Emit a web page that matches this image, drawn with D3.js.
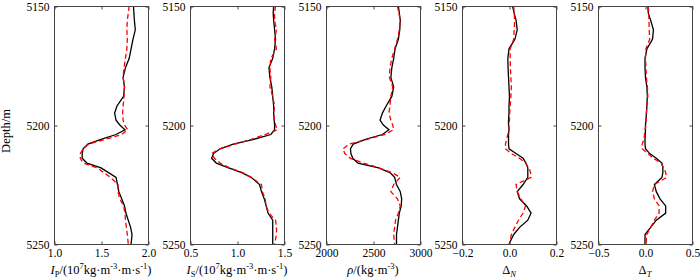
<!DOCTYPE html>
<html>
<head>
<meta charset="utf-8">
<script src="https://cdn.jsdelivr.net/npm/d3@7"></script>
<style>
  body { margin: 0; background: #fff; }
  text { font-family: "Liberation Serif", "Times New Roman", serif; fill: #000; }
</style>
</head>
<body>
<svg id="chart" width="700" height="280"></svg>
<script>
// depth samples (m), shared by all curves
const depth = [5150, 5153, 5156, 5160, 5164, 5168, 5172, 5176, 5180, 5184, 5188, 5192, 5195, 5198,
  5200, 5202, 5204, 5206, 5208, 5210, 5212, 5214, 5216, 5218, 5220, 5222, 5225, 5228, 5231,
  5234, 5237, 5240, 5243, 5246, 5250];
const depthTicks = [5150, 5200, 5250];

// P impedance (true = black, inverted = red dashed)
const ipTrue = [1.845, 1.85, 1.855, 1.865, 1.84, 1.82, 1.80, 1.76, 1.735, 1.75, 1.74, 1.67, 1.645, 1.66,
  1.70, 1.755, 1.66, 1.50, 1.36, 1.31, 1.30, 1.30, 1.35, 1.50, 1.58, 1.66, 1.675, 1.69, 1.72,
  1.75, 1.765, 1.79, 1.815, 1.83, 1.82];
const ipInv = [1.80, 1.79, 1.78, 1.775, 1.78, 1.775, 1.76, 1.745, 1.735, 1.75, 1.745, 1.735, 1.73, 1.735,
  1.75, 1.785, 1.72, 1.55, 1.37, 1.31, 1.28, 1.28, 1.31, 1.46, 1.53, 1.60, 1.68, 1.68, 1.70,
  1.74, 1.755, 1.76, 1.77, 1.78, 1.79];
const ipTicks = [1.0, 1.5, 2.0];

// S impedance
const isTrue = [1.39, 1.385, 1.39, 1.40, 1.41, 1.40, 1.38, 1.34, 1.35, 1.37, 1.38, 1.39, 1.39, 1.395,
  1.40, 1.40, 1.36, 1.18, 0.96, 0.82, 0.75, 0.73, 0.78, 0.91, 1.05, 1.15, 1.24, 1.26, 1.29,
  1.31, 1.33, 1.38, 1.38, 1.38, 1.38];
const isInv = [1.41, 1.40, 1.40, 1.42, 1.40, 1.42, 1.36, 1.35, 1.36, 1.35, 1.38, 1.40, 1.39, 1.40,
  1.41, 1.43, 1.30, 1.15, 0.98, 0.82, 0.73, 0.76, 0.82, 0.92, 1.06, 1.15, 1.26, 1.27, 1.30,
  1.31, 1.34, 1.41, 1.42, 1.42, 1.40];
const isTicks = [0.5, 1.0, 1.5];

// density
const rhoTrue = [2770, 2780, 2790, 2785, 2770, 2735, 2720, 2700, 2690, 2720, 2700, 2640, 2600, 2575,
  2610, 2670, 2600, 2420, 2290, 2260, 2265, 2285, 2340, 2560, 2680, 2730, 2750, 2790, 2805,
  2800, 2780, 2770, 2760, 2750, 2750];
const rhoInv = [2760, 2775, 2790, 2780, 2760, 2730, 2700, 2680, 2675, 2710, 2690, 2680, 2670, 2690,
  2710, 2720, 2620, 2440, 2250, 2180, 2200, 2260, 2400, 2560, 2700, 2790, 2720, 2690, 2760,
  2790, 2770, 2740, 2730, 2720, 2730];
const rhoTicks = [2000, 2500, 3000];

// normal weakness
const dnTrue = [0.015, 0.022, 0.03, 0.035, 0.025, 0.0, -0.005, -0.004, -0.002, 0.0, 0.002, 0.0, 0.0, -0.002,
  -0.002, 0.0, -0.002, -0.002, -0.002, 0.0, 0.03, 0.06, 0.072, 0.08, 0.08, 0.08, 0.06, 0.035, 0.045,
  0.075, 0.094, 0.08, 0.045, 0.02, 0.0];
const dnInv = [0.02, 0.022, 0.024, 0.022, 0.02, 0.005, 0.005, 0.006, 0.008, 0.01, 0.008, 0.005, 0.003, 0.002,
  0.0, 0.0, -0.005, -0.01, -0.015, -0.015, 0.01, 0.045, 0.07, 0.085, 0.092, 0.094, 0.03, 0.035, 0.05,
  0.07, 0.06, 0.04, 0.025, 0.01, 0.002];
const dnTicks = [-0.2, 0.0, 0.2];

// tangential weakness
const dtTrue = [0.03, 0.035, 0.06, 0.09, 0.08, 0.02, 0.0, 0.0, 0.005, 0.02, 0.025, 0.02, 0.015, 0.01,
  0.005, 0.005, 0.003, 0.0, 0.0, 0.005, 0.05, 0.12, 0.18, 0.19, 0.19, 0.18, 0.10, 0.12, 0.16,
  0.22, 0.22, 0.12, 0.06, 0.0, 0.0];
const dtInv = [0.035, 0.04, 0.042, 0.045, 0.05, 0.01, 0.005, 0.01, 0.015, 0.025, 0.03, 0.02, 0.015, 0.012,
  0.008, 0.0, -0.005, -0.01, -0.03, -0.03, 0.03, 0.09, 0.17, 0.20, 0.22, 0.23, 0.10, 0.08, 0.10,
  0.15, 0.15, 0.10, 0.06, 0.02, 0.01];
const dtTicks = [-0.5, 0.0, 0.5];

/***** layout *****/
const svg = d3.select("#chart");
const plotTop = 6, plotBottom = 244;
const panelW = 94, firstLeft = 54, step = 136;
const TICK = 3;
const frameColor = "#444";

const yScale = d3.scaleLinear().domain([5150, 5250]).range([plotTop, plotBottom]);

const f1 = d3.format(".1f"), f0 = d3.format("d");

// axis titles as pieces: [text, style]
const panels = [
  {tv: ipTrue, iv: ipInv, ticks: ipTicks, fmt: f1,
   title: [["I", "i"], ["P", "sub"], ["/(10", ""], ["7", "sup"], ["kg·m", ""], ["-3", "sup"], ["·m·s", ""], ["-1", "sup"], [")", ""]]},
  {tv: isTrue, iv: isInv, ticks: isTicks, fmt: f1,
   title: [["I", "i"], ["S", "sub"], ["/(10", ""], ["7", "sup"], ["kg·m", ""], ["-3", "sup"], ["·m·s", ""], ["-1", "sup"], [")", ""]]},
  {tv: rhoTrue, iv: rhoInv, ticks: rhoTicks, fmt: f0,
   title: [["ρ", "i"], ["/(kg·m", ""], ["-3", "sup"], [")", ""]]},
  {tv: dnTrue, iv: dnInv, ticks: dnTicks, fmt: f1,
   title: [["Δ", ""], ["N", "isub"]]},
  {tv: dtTrue, iv: dtInv, ticks: dtTicks, fmt: f1,
   title: [["Δ", ""], ["T", "isub"]]}
];

function styleAxis(g) {
  g.select(".domain").remove();
  g.selectAll(".tick line").attr("stroke", frameColor);
  g.selectAll(".tick text").style("font-size", "11.5px").attr("fill", "#000");
}

panels.forEach((p, i) => {
  const left = firstLeft + i * step;
  const xScale = d3.scaleLinear()
    .domain([p.ticks[0], p.ticks[p.ticks.length - 1]])
    .range([0, panelW]);

  const g = svg.append("g").attr("transform", `translate(${left}, 0)`);

  // curves
  const line = vals => d3.line()
    .x(d => xScale(d))
    .y((d, k) => yScale(depth[k]))(vals);

  g.append("path")
    .attr("d", line(p.tv))
    .attr("fill", "none")
    .attr("stroke", "#000")
    .attr("stroke-width", 1.3);

  g.append("path")
    .attr("d", line(p.iv))
    .attr("fill", "none")
    .attr("stroke", "#ff0000")
    .attr("stroke-width", 1.3)
    .attr("stroke-dasharray", "5,3");

  // frame
  g.append("rect")
    .attr("x", 0.5).attr("y", plotTop + 0.5)
    .attr("width", panelW).attr("height", plotBottom - plotTop)
    .attr("fill", "none")
    .attr("stroke", frameColor)
    .attr("stroke-width", 1);

  // axes, ticks pointing inward
  g.append("g")
    .attr("transform", `translate(0.5, 0.5)`)
    .call(d3.axisLeft(yScale).tickValues(depthTicks).tickFormat(f0)
      .tickSizeInner(-TICK).tickSizeOuter(0).tickPadding(5))
    .call(styleAxis);

  g.append("g")
    .attr("transform", `translate(${panelW + 0.5}, 0.5)`)
    .call(d3.axisRight(yScale).tickValues(depthTicks).tickFormat("")
      .tickSizeInner(-TICK).tickSizeOuter(0))
    .call(styleAxis);

  g.append("g")
    .attr("transform", `translate(0.5, ${plotBottom + 0.5})`)
    .call(d3.axisBottom(xScale).tickValues(p.ticks).tickFormat(p.fmt)
      .tickSizeInner(-TICK).tickSizeOuter(0).tickPadding(4))
    .call(styleAxis);

  g.append("g")
    .attr("transform", `translate(0.5, ${plotTop + 0.5})`)
    .call(d3.axisTop(xScale).tickValues(p.ticks).tickFormat("")
      .tickSizeInner(-TICK).tickSizeOuter(0))
    .call(styleAxis);

  // axis title
  const t = g.append("text")
    .attr("x", panelW / 2)
    .attr("y", 274)
    .attr("text-anchor", "middle")
    .style("font-size", "12.5px");

  let shift = 0;
  p.title.forEach(([txt, st]) => {
    const span = t.append("tspan").text(txt);
    let target = 0;
    if (st === "i") span.style("font-style", "italic");
    if (st === "sub" || st === "isub") {
      target = 3;
      span.style("font-size", "8.5px");
      if (st === "isub") span.style("font-style", "italic");
    }
    if (st === "sup") {
      target = -5;
      span.style("font-size", "8.5px");
    }
    span.attr("dy", target - shift);
    shift = target;
  });
});

// shared y-axis label
svg.append("text")
  .attr("transform", `translate(10, ${(plotTop + plotBottom) / 2 + 6}) rotate(-90)`)
  .attr("text-anchor", "middle")
  .style("font-size", "12.5px")
  .text("Depth/m");
</script>
</body>
</html>
